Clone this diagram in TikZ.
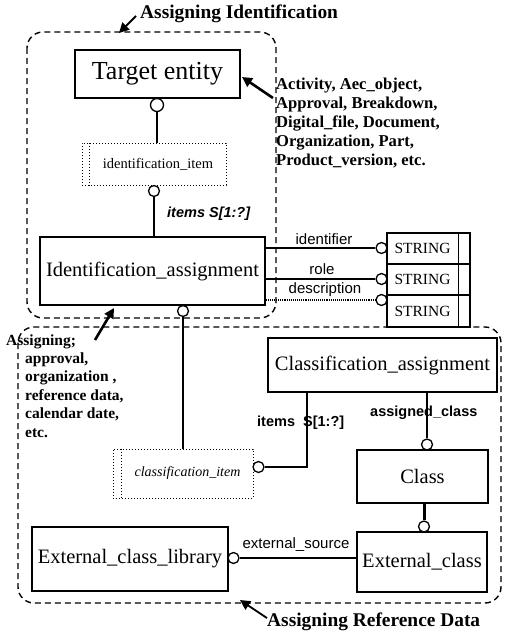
\documentclass[tikz,border=0pt]{standalone}
\usepackage{fontspec}
\setmainfont{Liberation Serif}
\setsansfont{Liberation Sans}
\usetikzlibrary{arrows.meta}

\begin{document}
\begin{tikzpicture}[x=1pt,y=-1pt,
  box/.style={draw, line width=1.1pt, inner sep=0pt, font=\fontsize{20.5}{24}\selectfont},
  selbox/.style={draw, dotted, line width=1pt, inner sep=0pt, font=\fontsize{14.5}{17}\selectfont},
  strbox/.style={draw, line width=1.1pt, inner sep=0pt, minimum width=83pt, font=\fontsize{15.5}{18}\selectfont},
  circ/.style={draw, circle, fill=white, line width=1.3pt, minimum size=11pt, inner sep=0pt},
  attr/.style={font=\sffamily\fontsize{15}{17}\selectfont, inner sep=0pt},
  battr/.style={font=\sffamily\bfseries\fontsize{14.5}{17}\selectfont, inner sep=0pt, anchor=west},
  note/.style={font=\bfseries\fontsize{16.6}{19}\selectfont, align=left, inner sep=0pt, anchor=west},
  heading/.style={font=\bfseries\fontsize{19.4}{22}\selectfont, inner sep=0pt, anchor=west},
  region/.style={line width=1.4pt, dash pattern=on 6pt off 4pt, rounded corners=16pt},
  pointer/.style={line width=2.6pt, -{Triangle[length=10pt,width=10pt]}},
  link/.style={line width=1.1pt},
]
\useasboundingbox (0,0) rectangle (504,634);

% grouping regions
\draw[region] (27,32) rectangle (276,318);
\draw[region] (18,327) rectangle (501,603);

% entities
\node[box, line width=1.6pt, minimum width=165pt, minimum height=48pt, font=\fontsize{26}{29}\selectfont]
  (te) at (157.5,74) {Target entity};
\node[selbox, minimum width=144pt, minimum height=42pt] (idi) at (154,164) {\hspace{8pt}identification\_item};
\draw[dotted, line width=1pt] ([xshift=8pt]idi.north west) -- ([xshift=8pt]idi.south west);
\node[box, minimum width=225pt, minimum height=68pt] (ia) at (152.5,271) {Identification\_assignment};

\node[strbox, minimum height=31pt] (s1) at (428.5,248.5) {\hspace{-12pt}STRING};
\node[strbox, minimum height=31pt] (s2) at (428.5,279.5) {\hspace{-12pt}STRING};
\node[strbox, minimum height=32pt] (s3) at (428.5,311) {\hspace{-12pt}STRING};
\foreach \s in {s1,s2,s3}
  \draw[line width=1.1pt] ([xshift=-12pt]\s.north east) -- ([xshift=-12pt]\s.south east);

\node[box, minimum width=229pt, minimum height=54pt] (ca) at (382.5,365) {Classification\_assignment};
\node[selbox, minimum width=140pt, minimum height=49pt, font=\itshape\fontsize{14}{17}\selectfont]
  (ci) at (183,473.5) {\hspace{9pt}classification\_item};
\draw[dotted, line width=1pt] ([xshift=9pt]ci.north west) -- ([xshift=9pt]ci.south west);
\node[box, minimum width=131pt, minimum height=53pt] (cl) at (422.5,476.5) {Class};
\node[box, minimum width=130pt, minimum height=60pt] (ec) at (422,562) {External\_class};
\node[box, minimum width=196pt, minimum height=64pt] (ecl) at (130,559) {External\_class\_library};

% relationship end circles
\node[circ, minimum size=13pt] (c1) at (157,105) {};
\node[circ] (c2) at (154,191) {};
\node[circ] (c3) at (183,311) {};
\node[circ] (c4) at (381.5,248) {};
\node[circ] (c5) at (381.5,279) {};
\node[circ] (c6) at (381.5,300) {};
\node[circ] (c7) at (258.5,467) {};
\node[circ] (c8) at (427,444.5) {};
\node[circ] (c9) at (424,526.5) {};
\node[circ] (c10) at (233.5,558) {};
\coordinate (bend) at (307,467);

% relationships
\draw[link] (c1.south) -- (c1.south |- idi.north);
\draw[link] (c2.south) -- (c2.south |- ia.north);
\draw[link] (c3.south) -- (c3.south |- ci.north);
\draw[link] (ia.east |- c4) -- (c4.west);
\draw[link] (ia.east |- c5) -- (c5.west);
\draw[link, densely dotted] (ia.east |- c6) -- (c6.west);
\draw[link] (bend |- ca.south) -- (bend) -- (c7.east);
\draw[link] (c8.north |- ca.south) -- (c8.north);
\draw[line width=3pt] (c9.north |- cl.south) -- (c9.north);
\draw[link] (c10.east) -- (c10 -| ec.west);

% attribute labels
\node[attr] (lid) at (324,239) {identifier};
\node[attr] (lrole) at (322,269) {role};
\node[attr] (ldesc) at (325,290) {description};
\node[attr] (lext) at (296,545) {external\_source};
\node[battr, font=\sffamily\bfseries\itshape\fontsize{14.5}{17}\selectfont] (litems) at (167,214) {items S[1:?]};
\node[battr] (litems2) at (257,423) {items\ \ S[1:?]};
\node[battr] (lassigned) at (370,413) {assigned\_class};

% annotations
\node[heading] (h1) at (140,14) {Assigning Identification};
\node[note] (n1) at (276,123) {Activity, Aec\_object,\\Approval, Breakdown,\\Digital\_file, Document,\\Organization, Part,\\Product\_version, etc.};
\node[note, font=\bfseries\fontsize{15.5}{18.5}\selectfont] (n2) at (6,342) {Assigning;};
\node[note, font=\bfseries\fontsize{15.5}{18.5}\selectfont] (n3) at (25,395) {approval,\\organization ,\\reference data,\\calendar date,\\etc.};
\node[heading] (h2) at (267,622) {Assigning Reference Data};

\coordinate (p1a) at (136,16);  \coordinate (p1b) at (119,33);
\coordinate (p2a) at (273,98);  \coordinate (p2b) at (242,77);
\coordinate (p3a) at (95,340);  \coordinate (p3b) at (114,308);
\coordinate (p4a) at (267,618); \coordinate (p4b) at (240,600);
\draw[pointer, line width=1.8pt] (p1a) -- (p1b);
\draw[pointer] (p2a) -- (p2b);
\draw[pointer] (p3a) -- (p3b);
\draw[pointer, line width=1.8pt] (p4a) -- (p4b);
\end{tikzpicture}
\end{document}
